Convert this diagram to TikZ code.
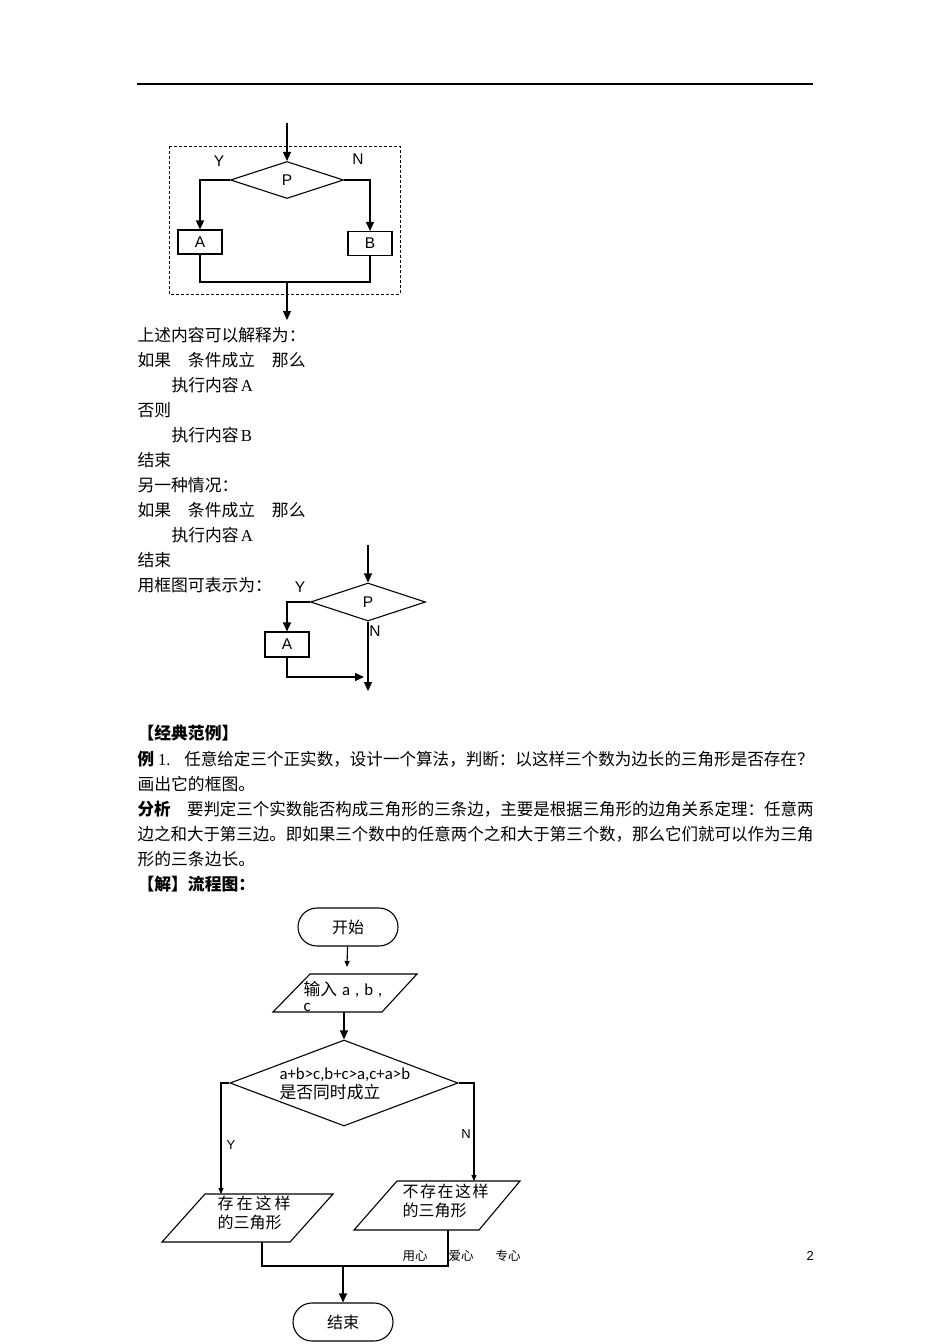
\documentclass[tikz,border=0pt]{standalone}
\usepackage{fontspec}
\usepackage{graphicx}
\setmainfont{Noto Sans CJK SC}
\newfontfamily\serifl{Liberation Serif}
\newfontfamily\sansl{Liberation Sans}
\newfontfamily\calib{Carlito}
\usetikzlibrary{arrows.meta,shapes.geometric}
\newcommand{\textsz}{\fontsize{16.8}{19}\selectfont}
\newcommand{\fullline}[1]{\resizebox{676pt}{\height}{#1}}
\begin{document}
\begin{tikzpicture}[x=1pt,y=-1pt,line width=1.1pt,
    txt/.style={anchor=west,inner sep=0pt,font=\textsz},
    lbl/.style={inner sep=0pt,font=\sansl\fontsize{15.5}{17}\selectfont},
    procbox/.style={draw,minimum width=44pt,minimum height=24pt,inner sep=0pt,font=\sansl\fontsize{15.5}{17}\selectfont},
    decision/.style={draw,diamond,inner sep=0pt},
    terminal/.style={draw,rounded corners=19pt,minimum width=100pt,minimum height=38pt,inner sep=0pt,font=\fontsize{16}{18}\selectfont},
    bigtip/.style={-{Triangle[length=9pt,width=8pt]}},
    smalltip/.style={-{Triangle[length=6pt,width=5pt]}}]
\useasboundingbox (0,0) rectangle (950,1344);
%header
\draw[line width=1.5pt] (137,84) -- (813,84);
%first chart
\draw[dash pattern=on 3pt off 2pt,line width=0.8pt] (169,146) rectangle (400,294);
\node[decision,minimum width=113pt,minimum height=37pt,lbl] (p1) at (287,180) {P};
\coordinate (in1) at (287,123);
\draw[bigtip] (in1) -- (p1.north);
\node[procbox] (a1) at (200,242) {A};
\node[procbox] (b1) at (370,243.5) {B};
\draw[bigtip] (p1.west) -| (a1.north);
\draw[bigtip] (p1.east) -| (b1.north);
\node[lbl] (y1) at (219,161) {Y};
\node[lbl] (n1) at (358,159) {N};
\coordinate (j1) at (287,282);
\coordinate (out1) at (287,320);
\draw (a1.south) |- (j1) -| (b1.south);
\draw[bigtip] (j1) -- (out1);
%text
\node[txt] (t1) at (137,335) {上述内容可以解释为：};
\node[txt] (t2) at (137,360) {如果\quad 条件成立\quad 那么};
\node[txt] (t3) at (171,385) {执行内容\hspace{2pt}{\serifl A}};
\node[txt] (t4) at (137,410) {否则};
\node[txt] (t5) at (171,435) {执行内容\hspace{2pt}{\serifl B}};
\node[txt] (t6) at (137,460) {结束};
\node[txt] (t7) at (137,485) {另一种情况：};
\node[txt] (t8) at (137,510) {如果\quad 条件成立\quad 那么};
\node[txt] (t9) at (171,535) {执行内容\hspace{2pt}{\serifl A}};
\node[txt] (t10) at (137,560) {结束};
\node[txt] (t11) at (137,585) {用框图可表示为：};
%second chart
\node[decision,minimum width=115pt,minimum height=38pt,lbl] (p2) at (368,602) {P};
\coordinate (in2) at (368,545);
\draw[bigtip] (in2) -- (p2.north);
\node[procbox,minimum height=25pt] (a2) at (287,644.5) {A};
\draw[bigtip] (p2.west) -| (a2.north);
\coordinate (out2) at (368,691);
\draw[bigtip] (p2.south) -- (out2);
\coordinate (m2) at (364,677);
\draw[bigtip] (a2.south) |- (m2);
\node[lbl] (y2) at (300,587) {Y};
\node[lbl] (n2) at (375,631) {N};
%example text
\node[txt] (s1) at (137,733) {\bfseries 【经典范例】};
\node[txt] (s2) at (137,759) {\fullline{{\bfseries 例}\hspace{4pt}{\serifl 1.}\hspace{14pt}任意给定三个正实数，设计一个算法，判断：以这样三个数为边长的三角形是否存在？}};
\node[txt] (s3) at (137,784) {画出它的框图。};
\node[txt] (s4) at (137,809) {\fullline{{\bfseries 分析}\quad 要判定三个实数能否构成三角形的三条边，主要是根据三角形的边角关系定理：任意两}};
\node[txt] (s5) at (137,834) {\fullline{边之和大于第三边。即如果三个数中的任意两个之和大于第三个数，那么它们就可以作为三角}};
\node[txt] (s6) at (137,859) {形的三条边长。};
\node[txt] (s7) at (137,884) {\bfseries 【解】流程图：};
%third chart
\node[terminal] (start) at (348,927) {开始};
\coordinate (s3a) at (347,967);
\draw[smalltip] (start) -- (s3a);
\draw (273,1012) -- (310,974) -- (417,974) -- (382,1012) -- cycle;
\node[anchor=north west,inner sep=0pt,align=left,font=\fontsize{16.8}{16}\selectfont] (input) at (303,981) {输入\hspace{5pt}{\calib a\hspace{5pt},\hspace{5pt}b\hspace{5pt},}\\{\calib c}};
\coordinate (inb) at (344,1012);
\node[decision,minimum width=228pt,minimum height=86pt] (cond) at (344,1083) {};
\node[anchor=west,inner sep=0pt,align=left,font=\fontsize{16.8}{19}\selectfont] (condtxt) at (279,1084) {{\calib a+b>c,b+c>a,c+a>b}\\是否同时成立};
\draw[bigtip] (inb) -- (cond.north);
%branches
\coordinate (ytop) at (221,1194);
\coordinate (ntop) at (474,1181);
\draw[smalltip] (cond.west) -| (ytop);
\draw[smalltip] (cond.east) -| (ntop);
\node[lbl,font=\sansl\fontsize{13}{15}\selectfont] (y3) at (231,1145) {Y};
\node[lbl,font=\sansl\fontsize{13}{15}\selectfont] (n3) at (466,1134) {N};
\draw (162,1242) -- (205,1194) -- (333,1194) -- (290,1242) -- cycle;
\node[anchor=north west,inner sep=0pt,align=left,font=\fontsize{16}{19}\selectfont] (yes) at (217,1195) {存\hspace{3pt}在\hspace{3pt}这\hspace{3pt}样\\的三角形};
\draw (354,1230) -- (397,1181) -- (520,1181) -- (479,1230) -- cycle;
\node[anchor=north west,inner sep=0pt,align=left,font=\fontsize{16}{19}\selectfont] (no) at (402,1183) {不\hspace{1.5pt}存\hspace{1.5pt}在\hspace{1.5pt}这\hspace{1.5pt}样\\的三角形};
\coordinate (yb) at (262,1242);
\coordinate (nb) at (448,1230);
\coordinate (j3) at (343,1266);
\draw (yb) |- (j3) -| (nb);
\node[terminal] (stop) at (343,1322) {结束};
\draw[bigtip] (j3) -- (stop.north);
%footer
\node[txt,font=\fontsize{12.5}{14}\selectfont] (foot) at (402,1256) {用心\hspace{21pt}爱心\hspace{22pt}专心};
\node[txt,font=\sansl\fontsize{13}{15}\selectfont] (page) at (806,1256) {2};
\end{tikzpicture}
\end{document}
